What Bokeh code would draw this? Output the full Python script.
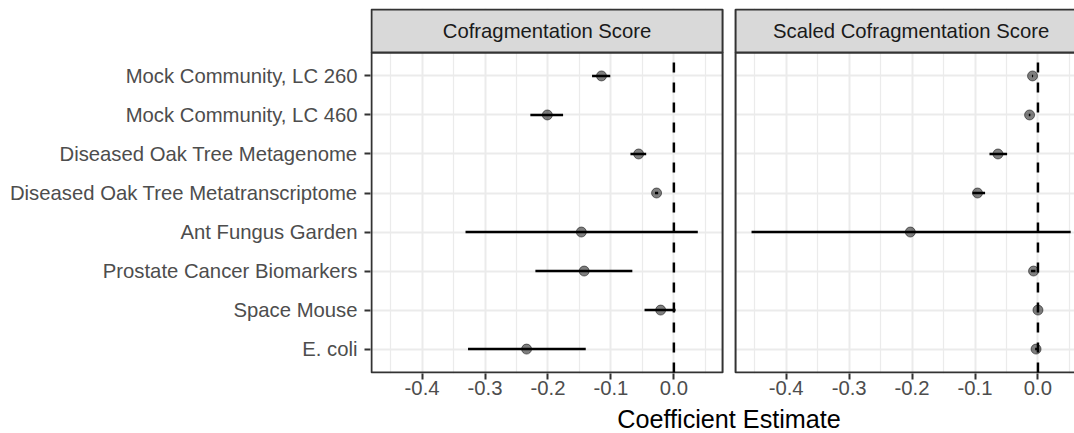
from bokeh.plotting import figure
from bokeh.layouts import column
from bokeh.models import Range1d, FixedTicker, CustomJSTickFormatter
from bokeh.core.properties import value
from bokeh.embed import file_html
from bokeh.resources import INLINE

# ---------------- data ----------------
categories = [
    "Mock Community, LC 260",
    "Mock Community, LC 460",
    "Diseased Oak Tree Metagenome",
    "Diseased Oak Tree Metatranscriptome",
    "Ant Fungus Garden",
    "Prostate Cancer Biomarkers",
    "Space Mouse",
    "E. coli",
]
facets = ["Cofragmentation Score", "Scaled Cofragmentation Score"]
x_title = "Coefficient Estimate"

score_est = [-0.115, -0.201, -0.056, -0.0275, -0.147, -0.1425, -0.021, -0.234]
score_lo = [-0.130, -0.228, -0.069, -0.030, -0.331, -0.220, -0.0466, -0.327]
score_hi = [-0.101, -0.176, -0.044, -0.025, 0.038, -0.066, 0.0027, -0.140]

scaled_est = [-0.0086, -0.0133, -0.0635, -0.096, -0.2027, -0.007, 0.0, -0.003]
scaled_lo = [-0.0095, -0.0145, -0.077, -0.104, -0.455, -0.011, -0.001, -0.0045]
scaled_hi = [-0.0077, -0.0120, -0.049, -0.084, 0.052, -0.004, 0.0008, -0.0015]

x_ticks = [-0.4, -0.3, -0.2, -0.1, 0.0]
x_minor = [-0.45, -0.35, -0.25, -0.15, -0.05, 0.05]
ref_line = 0.0

# ---------------- layout constants ----------------
FONT = "Liberation Sans"
PX = 629.5   # px per x unit
PY = 39.0    # px per y unit
n = len(categories)
ys = [n - i for i in range(n)]

lo_all = min(score_lo + scaled_lo)
hi_all = max(score_hi + scaled_hi)
pad = 0.05 * (hi_all - lo_all)
xmin, xmax = lo_all - pad, hi_all + pad
gap = 13 / PX
off = (xmax - xmin) + gap

frame_left = 370
frame_w = 1074 - frame_left
x_start = xmin - 1 / PX
x_end = x_start + frame_w / PX
xr = Range1d(x_start, x_end)

y_lo, y_hi = 0.4, n + 0.6
strip_top = y_hi + 43 / PY
y_bottom = y_lo - 1 / PY
y_top = strip_top + 1 / PY
frame_h = (y_top - y_bottom) * PY
top_border = 8
main_h = 403
title_h = 433 - main_h

p = figure(
    width=1074, height=main_h,
    x_range=xr, y_range=Range1d(y_bottom, y_top),
    output_backend="svg", toolbar_location=None,
    min_border_left=frame_left, min_border_right=0,
    min_border_top=top_border,
    min_border_bottom=int(round(main_h - top_border - frame_h)),
    background_fill_color="white", border_fill_color="white",
)
p.outline_line_color = None

# ---------------- axes ----------------
xt = FixedTicker(ticks=x_ticks + [t + off for t in x_ticks],
                 minor_ticks=x_minor + [t + off for t in x_minor])
p.xaxis.ticker = xt
p.xaxis.formatter = CustomJSTickFormatter(args=dict(off=off, split=xmax + gap / 2), code="""
const v = tick > split ? tick - off : tick;
const r = Math.round(v * 10) / 10;
return (r === 0 ? 0 : r).toFixed(1);
""")
p.yaxis.ticker = FixedTicker(ticks=ys)
p.yaxis.major_label_overrides = {y: c for y, c in zip(ys, categories)}

for ax in (p.xaxis[0], p.yaxis[0]):
    ax.axis_line_color = None
    ax.major_tick_line_color = "#333333"
    ax.major_tick_line_width = 2
    ax.major_tick_out = 6
    ax.major_tick_in = 0
    ax.minor_tick_line_color = None
    ax.major_label_text_font = FONT
    ax.major_label_text_font_size = "20.3px"
    ax.major_label_text_color = "#4D4D4D"

p.yaxis.major_label_standoff = 7
p.xaxis.major_label_standoff = 1

p.xgrid.grid_line_color = "#EBEBEB"
p.xgrid.grid_line_width = 2
p.xgrid.minor_grid_line_color = "#EBEBEB"
p.xgrid.minor_grid_line_width = 1.2
p.ygrid.grid_line_color = "#EBEBEB"
p.ygrid.grid_line_width = 2

# gap between panels
p.quad(left=[xmax], right=[xmin + off], bottom=[y_bottom], top=[y_top],
       fill_color="white", line_color=None)

# panel borders
p.quad(left=[xmin, xmin + off], right=[xmax, xmax + off],
       bottom=[y_lo, y_lo], top=[y_hi, y_hi],
       fill_color=None, line_color="#333333", line_width=2)

# strips
p.quad(left=[xmin, xmin + off], right=[xmax, xmax + off],
       bottom=[y_hi, y_hi], top=[strip_top, strip_top],
       fill_color="#D9D9D9", line_color="#333333", line_width=2)
p.text(x=[(xmin + xmax) / 2, (xmin + xmax) / 2 + off],
       y=[(y_hi + strip_top) / 2] * 2, text=facets,
       text_font=value(FONT), text_font_size="20.3px", text_color="#1A1A1A",
       text_align="center", text_baseline="middle")

# reference dashed lines (drawn bottom to top)
p.segment(x0=[ref_line, ref_line + off], y0=[y_lo, y_lo],
          x1=[ref_line, ref_line + off], y1=[y_hi, y_hi],
          line_color="black", line_width=2.5, line_dash="10 10")

# error bars and points
for est, lo, hi, shift in ((score_est, score_lo, score_hi, 0.0),
                           (scaled_est, scaled_lo, scaled_hi, off)):
    p.segment(x0=[v + shift for v in lo], y0=ys,
              x1=[v + shift for v in hi], y1=ys,
              line_color="black", line_width=2.5)
    p.scatter(x=[v + shift for v in est], y=ys, size=10,
              fill_color="black", fill_alpha=0.5,
              line_color="black", line_alpha=0.5, line_width=1)

# ---------------- axis title strip (shared x scale) ----------------
t = figure(
    title=None,
    width=1074, height=title_h, x_range=xr, y_range=Range1d(0, 1),
    output_backend="svg", toolbar_location=None,
    x_axis_type=None, y_axis_type=None,
    min_border=0, min_border_left=frame_left, min_border_right=0,
    min_border_top=0, min_border_bottom=0,
    background_fill_color="white", border_fill_color="white",
)
t.outline_line_color = None
t.grid.visible = False
t.text(x=[(xmin + xmax + off) / 2], y=[1 - 15.8 / title_h], text=[x_title],
       text_font=value(FONT), text_font_size="25.2px", text_color="black",
       text_align="center", text_baseline="middle")

layout = column(p, t, spacing=0)
open("out.html", "w").write(file_html(layout, INLINE))
